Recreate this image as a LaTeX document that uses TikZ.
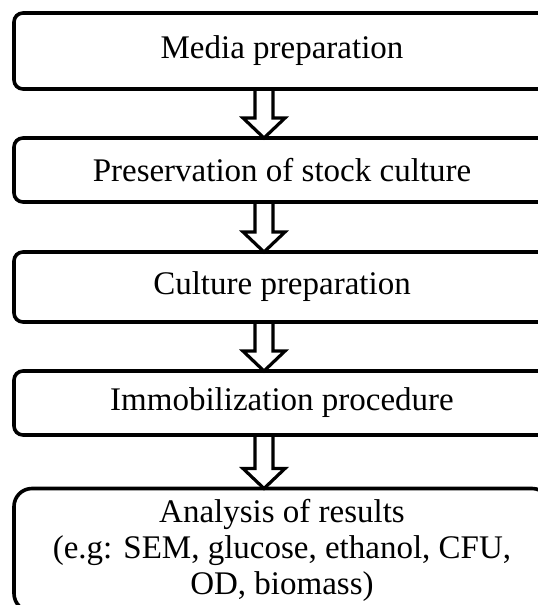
\documentclass[tikz,border=0pt]{standalone}
\usepackage{fontspec}
\setmainfont{Liberation Serif}
\usetikzlibrary{calc}
\newcommand{\flowarrow}[2]{%
  \draw[hollowarrow] ($(#1.south -| ax)+(-9,0)$) -- ($(#2.north -| ax)+(-9,20)$)
    -- ($(#2.north -| ax)+(-21,20)$) -- (#2.north -| ax)
    -- ($(#2.north -| ax)+(21,20)$) -- ($(#2.north -| ax)+(9,20)$)
    -- ($(#1.south -| ax)+(9,0)$);%
}

\begin{document}
\begin{tikzpicture}[
      x=1pt, y=1pt,
      font=\fontsize{33}{36}\selectfont,
      stepbox/.style={draw, line width=3.6pt, rounded corners=9pt, outer sep=0pt,
        minimum width=536pt, align=center, inner sep=0pt},
      lastbox/.style={stepbox, rounded corners=18pt},
      hollowarrow/.style={draw, line width=3.2pt, miter limit=20}
    ]
      \useasboundingbox (0,0) rectangle (538,605);
      \clip (0,0) rectangle (538,605);
      \coordinate (ax) at (264,0);

      \node[stepbox, minimum height=76pt] (media) at (282,554) {Media preparation};
      \node[stepbox, minimum height=64pt] (stock) at (282,435) {Preservation of stock culture};
      \node[stepbox, minimum height=70pt] (culture) at (282,318) {Culture preparation};
      \node[stepbox, minimum height=64pt] (immob) at (282,202) {Immobilization procedure};
      \node[lastbox, minimum height=123pt] (results) at (282,55)
        {Analysis of results\\(e.g: SEM, glucose, ethanol, CFU,\\OD, biomass)};

      \flowarrow{media}{stock}
      \flowarrow{stock}{culture}
      \flowarrow{culture}{immob}
      \flowarrow{immob}{results}
\end{tikzpicture}
\end{document}
